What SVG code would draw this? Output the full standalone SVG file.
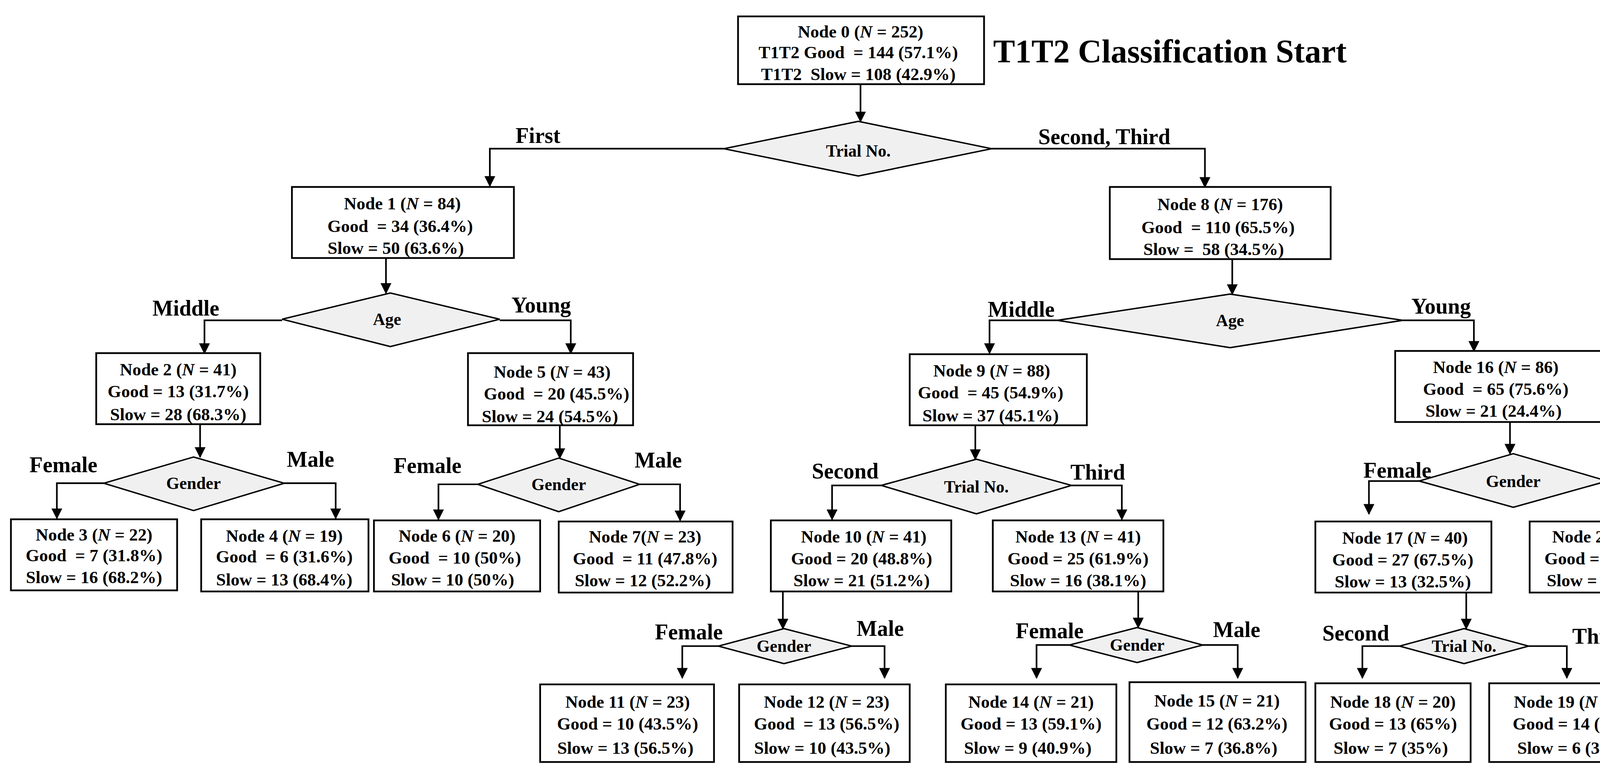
<svg xmlns="http://www.w3.org/2000/svg" width="4389" height="1974" viewBox="0 0 4389 1974">
<style>
text{font-family:"Liberation Serif","Times New Roman",serif;font-weight:bold;fill:#000;text-anchor:middle;dominant-baseline:central;white-space:pre}
.n{font-size:16px}.l{font-size:20px}.d{font-size:15.5px}
.box{fill:#fff;stroke:#000;stroke-width:1.6}
.dia{fill:#f0f0f0;stroke:#000;stroke-width:1.3}
.c{fill:none;stroke:#000;stroke-width:1.5}
</style>
<defs><marker id="a" markerUnits="userSpaceOnUse" markerWidth="10" markerHeight="10" refX="9" refY="5" orient="auto"><path d="M0,0L10,5L0,10z" fill="#000"/></marker></defs>
<rect width="4389" height="1974" fill="#fff"/>
<g transform="scale(2.7991)">
<g id="connectors">
<path class="c" marker-end="url(#a)" d="M787,77V111"/>
<path class="c" marker-end="url(#a)" d="M662,136H448V170"/>
<path class="c" marker-end="url(#a)" d="M907,136H1102V171"/>
<path class="c" marker-end="url(#a)" d="M353,236V268"/>
<path class="c" marker-end="url(#a)" d="M258,293H187V323"/>
<path class="c" marker-end="url(#a)" d="M457,293H522V323"/>
<path class="c" marker-end="url(#a)" d="M183,388V418"/>
<path class="c" marker-end="url(#a)" d="M95,442H52V474"/>
<path class="c" marker-end="url(#a)" d="M260,442H307V474"/>
<path class="c" marker-end="url(#a)" d="M512,389V419"/>
<path class="c" marker-end="url(#a)" d="M437,443H401V475"/>
<path class="c" marker-end="url(#a)" d="M585,443H622V476"/>
<path class="c" marker-end="url(#a)" d="M1127,237V269"/>
<path class="c" marker-end="url(#a)" d="M967,293H905V323"/>
<path class="c" marker-end="url(#a)" d="M1283,293H1348V321"/>
<path class="c" marker-end="url(#a)" d="M892,389V420"/>
<path class="c" marker-end="url(#a)" d="M806,444H761V475"/>
<path class="c" marker-end="url(#a)" d="M980,444H1026V475"/>
<path class="c" marker-end="url(#a)" d="M716,541V575"/>
<path class="c" marker-end="url(#a)" d="M657,591H624V620"/>
<path class="c" marker-end="url(#a)" d="M779,591H809V620"/>
<path class="c" marker-end="url(#a)" d="M1041,541V574"/>
<path class="c" marker-end="url(#a)" d="M978,590H948V620"/>
<path class="c" marker-end="url(#a)" d="M1100,590H1132V620"/>
<path class="c" marker-end="url(#a)" d="M1381,386V415"/>
<path class="c" marker-end="url(#a)" d="M1298,440H1252V470"/>
<path class="c" marker-end="url(#a)" d="M1470,440H1516V470"/>
<path class="c" marker-end="url(#a)" d="M1341,542V575"/>
<path class="c" marker-end="url(#a)" d="M1280,591H1246V620"/>
<path class="c" marker-end="url(#a)" d="M1398,591H1433V620"/>
</g>
<g id="labels">
<text class="l" x="492" y="124">First</text>
<text class="l" x="1010" y="125">Second, Third</text>
<text class="l" x="170" y="282">Middle</text>
<text class="l" x="495" y="279">Young</text>
<text class="l" x="58" y="425">Female</text>
<text class="l" x="284" y="420">Male</text>
<text class="l" x="391" y="426">Female</text>
<text class="l" x="602" y="421">Male</text>
<text class="l" x="934" y="283">Middle</text>
<text class="l" x="1318" y="280">Young</text>
<text class="l" x="773" y="431">Second</text>
<text class="l" x="1004" y="432">Third</text>
<text class="l" x="630" y="578">Female</text>
<text class="l" x="805" y="575">Male</text>
<text class="l" x="960" y="577">Female</text>
<text class="l" x="1131" y="576">Male</text>
<text class="l" x="1278" y="430">Female</text>
<text class="l" x="1498" y="432">Male</text>
<text class="l" x="1240" y="579">Second</text>
<text class="l" x="1463" y="582">Third</text>
<text x="1070" y="47" style="font-size:30px">T1T2 Classification Start</text>
</g>
<g id="d0"><path class="dia" d="M662,136L785,111L907,136L785,161z"/><text class="d" x="785" y="138">Trial No.</text></g>
<g id="d1"><path class="dia" d="M258,292L357,268L457,292L357,317z"/><text class="d" x="354" y="292">Age</text></g>
<g id="d2"><path class="dia" d="M95,442L177,418L260,442L177,467z"/><text class="d" x="177" y="442">Gender</text></g>
<g id="d3"><path class="dia" d="M437,443L511,419L585,443L511,468z"/><text class="d" x="511" y="443">Gender</text></g>
<g id="d4"><path class="dia" d="M967,293L1125,269L1283,293L1125,318z"/><text class="d" x="1125" y="293">Age</text></g>
<g id="d5"><path class="dia" d="M806,444L893,420L980,444L893,470z"/><text class="d" x="893" y="445">Trial No.</text></g>
<g id="d6"><path class="dia" d="M657,591L717,575L779,591L717,607z"/><text class="d" x="717" y="591">Gender</text></g>
<g id="d7"><path class="dia" d="M978,590L1040,574L1100,590L1040,606z"/><text class="d" x="1040" y="590">Gender</text></g>
<g id="d8"><path class="dia" d="M1298,440L1384,415L1470,440L1384,464z"/><text class="d" x="1384" y="440">Gender</text></g>
<g id="d9"><path class="dia" d="M1280,591L1339,575L1398,591L1339,607z"/><text class="d" x="1339" y="591">Trial No.</text></g>
<g id="node0"><rect class="box" x="675" y="15" width="225" height="62"/><text class="n" x="787" y="29">Node 0 (<tspan font-style="italic">N</tspan> = 252)</text><text class="n" x="785" y="48">T1T2 Good  = 144 (57.1%)</text><text class="n" x="785" y="68">T1T2  Slow = 108 (42.9%)</text></g>
<g id="node1"><rect class="box" x="267" y="171" width="203" height="65"/><text class="n" x="368" y="186">Node 1 (<tspan font-style="italic">N</tspan> = 84)</text><text class="n" x="366" y="207">Good  = 34 (36.4%)</text><text class="n" x="362" y="227">Slow = 50 (63.6%)</text></g>
<g id="node8"><rect class="box" x="1015" y="171" width="202" height="66"/><text class="n" x="1116" y="187">Node 8 (<tspan font-style="italic">N</tspan> = 176)</text><text class="n" x="1114" y="208">Good  = 110 (65.5%)</text><text class="n" x="1110" y="228">Slow =  58 (34.5%)</text></g>
<g id="node2"><rect class="box" x="88" y="323" width="150" height="65"/><text class="n" x="163" y="338">Node 2 (<tspan font-style="italic">N</tspan> = 41)</text><text class="n" x="163" y="358">Good = 13 (31.7%)</text><text class="n" x="163" y="379">Slow = 28 (68.3%)</text></g>
<g id="node5"><rect class="box" x="428" y="323" width="151" height="66"/><text class="n" x="505" y="340">Node 5 (<tspan font-style="italic">N</tspan> = 43)</text><text class="n" x="509" y="360">Good  = 20 (45.5%)</text><text class="n" x="503" y="381">Slow = 24 (54.5%)</text></g>
<g id="node3"><rect class="box" x="10" y="475" width="152" height="65"/><text class="n" x="86" y="489">Node 3 (<tspan font-style="italic">N</tspan> = 22)</text><text class="n" x="86" y="508">Good  = 7 (31.8%)</text><text class="n" x="86" y="528">Slow = 16 (68.2%)</text></g>
<g id="node4"><rect class="box" x="184" y="475" width="153" height="66"/><text class="n" x="260" y="490">Node 4 (<tspan font-style="italic">N</tspan> = 19)</text><text class="n" x="260" y="509">Good  = 6 (31.6%)</text><text class="n" x="260" y="530">Slow = 13 (68.4%)</text></g>
<g id="node6"><rect class="box" x="342" y="476" width="152" height="65"/><text class="n" x="418" y="490">Node 6 (<tspan font-style="italic">N</tspan> = 20)</text><text class="n" x="416" y="510">Good  = 10 (50%)</text><text class="n" x="414" y="530">Slow = 10 (50%)</text></g>
<g id="node7"><rect class="box" x="511" y="477" width="159" height="65"/><text class="n" x="590" y="491">Node 7(<tspan font-style="italic">N</tspan> = 23)</text><text class="n" x="590" y="511">Good  = 11 (47.8%)</text><text class="n" x="588" y="531">Slow = 12 (52.2%)</text></g>
<g id="node9"><rect class="box" x="832" y="324" width="162" height="65"/><text class="n" x="907" y="339">Node 9 (<tspan font-style="italic">N</tspan> = 88)</text><text class="n" x="906" y="359">Good  = 45 (54.9%)</text><text class="n" x="906" y="380">Slow = 37 (45.1%)</text></g>
<g id="node16"><rect class="box" x="1276" y="321" width="191" height="65"/><text class="n" x="1368" y="336">Node 16 (<tspan font-style="italic">N</tspan> = 86)</text><text class="n" x="1368" y="356">Good  = 65 (75.6%)</text><text class="n" x="1366" y="376">Slow = 21 (24.4%)</text></g>
<g id="node10"><rect class="box" x="705" y="476" width="165" height="65"/><text class="n" x="790" y="491">Node 10 (<tspan font-style="italic">N</tspan> = 41)</text><text class="n" x="788" y="511">Good = 20 (48.8%)</text><text class="n" x="788" y="531">Slow = 21 (51.2%)</text></g>
<g id="node13"><rect class="box" x="908" y="476" width="156" height="65"/><text class="n" x="986" y="491">Node 13 (<tspan font-style="italic">N</tspan> = 41)</text><text class="n" x="986" y="511">Good = 25 (61.9%)</text><text class="n" x="986" y="531">Slow = 16 (38.1%)</text></g>
<g id="node11"><rect class="box" x="494" y="626" width="159" height="71"/><text class="n" x="574" y="642">Node 11 (<tspan font-style="italic">N</tspan> = 23)</text><text class="n" x="574" y="662">Good = 10 (43.5%)</text><text class="n" x="572" y="684">Slow = 13 (56.5%)</text></g>
<g id="node12"><rect class="box" x="676" y="626" width="156" height="71"/><text class="n" x="756" y="642">Node 12 (<tspan font-style="italic">N</tspan> = 23)</text><text class="n" x="756" y="662">Good  = 13 (56.5%)</text><text class="n" x="752" y="684">Slow = 10 (43.5%)</text></g>
<g id="node14"><rect class="box" x="865" y="626" width="156" height="71"/><text class="n" x="943" y="642">Node 14 (<tspan font-style="italic">N</tspan> = 21)</text><text class="n" x="943" y="662">Good = 13 (59.1%)</text><text class="n" x="940" y="684">Slow = 9 (40.9%)</text></g>
<g id="node15"><rect class="box" x="1033" y="624" width="161" height="73"/><text class="n" x="1113" y="641">Node 15 (<tspan font-style="italic">N</tspan> = 21)</text><text class="n" x="1113" y="662">Good = 12 (63.2%)</text><text class="n" x="1110" y="684">Slow = 7 (36.8%)</text></g>
<g id="node17"><rect class="box" x="1203" y="477" width="161" height="65"/><text class="n" x="1285" y="492">Node 17 (<tspan font-style="italic">N</tspan> = 40)</text><text class="n" x="1283" y="512">Good = 27 (67.5%)</text><text class="n" x="1283" y="532">Slow = 13 (32.5%)</text></g>
<g id="node20"><rect class="box" x="1399" y="477" width="158" height="65"/><text class="n" x="1477" y="491">Node 20 (<tspan font-style="italic">N</tspan> = 46)</text><text class="n" x="1477" y="511">Good = 38 (82.6%)</text><text class="n" x="1473" y="531">Slow = 8 (17.4%)</text></g>
<g id="node18"><rect class="box" x="1203" y="625" width="142" height="72"/><text class="n" x="1274" y="642">Node 18 (<tspan font-style="italic">N</tspan> = 20)</text><text class="n" x="1274" y="662">Good = 13 (65%)</text><text class="n" x="1272" y="684">Slow = 7 (35%)</text></g>
<g id="node19"><rect class="box" x="1362" y="625" width="161" height="72"/><text class="n" x="1442" y="642">Node 19 (<tspan font-style="italic">N</tspan> = 20)</text><text class="n" x="1442" y="662">Good = 14 (70%)</text><text class="n" x="1440" y="684">Slow = 6 (30%)</text></g>
</g>
</svg>
